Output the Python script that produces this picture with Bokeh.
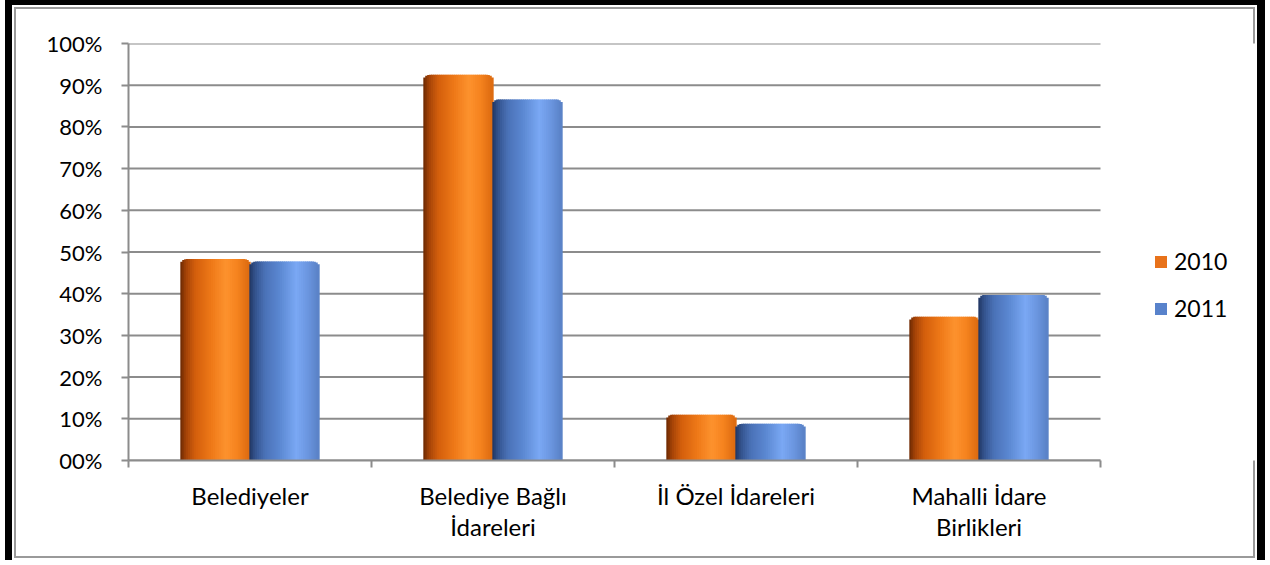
import math
from bokeh.plotting import figure
from bokeh.models import Range1d, FixedTicker, NumeralTickFormatter, Legend, LegendItem
from bokeh.embed import file_html
from bokeh.resources import INLINE

# ---- data ----
categories = ["Belediyeler", "Belediye Bağlı\nİdareleri", "İl Özel İdareleri", "Mahalli İdare\nBirlikleri"]
years = ["2010", "2011"]
values_2010 = [0.483, 0.925, 0.110, 0.345]
values_2011 = [0.477, 0.866, 0.088, 0.397]
y_ticks = [0.0, 0.1, 0.2, 0.3, 0.4, 0.5, 0.6, 0.7, 0.8, 0.9, 1.0]

FONT = "Lato"
GRID = "#8c8c8c"
BAR_W = 0.284

n_cat = len(categories)
centers = [i + 0.5 for i in range(n_cat)]

# layout (pixels)
BORDER_L, BORDER_R, BORDER_T, BORDER_B = 116, 5, 38, 105
CANVAS_W, CANVAS_H = 1260, 560
FRAME_W = CANVAS_W - BORDER_L - BORDER_R
FRAME_H = CANVAS_H - BORDER_T - BORDER_B
BAR_AREA_W = 972          # part of the frame holding the categories
x_end = n_cat * FRAME_W / BAR_AREA_W

p = figure(width=CANVAS_W, height=CANVAS_H, output_backend="svg", toolbar_location=None,
           x_range=Range1d(0, x_end), y_range=Range1d(0, 1),
           min_border_left=BORDER_L, min_border_right=BORDER_R,
           min_border_top=BORDER_T, min_border_bottom=BORDER_B)
p.styles = {"margin-left": "5px",
            "border-left": "7px solid black", "border-right": "8px solid black",
            "border-top": "5px solid black", "background-color": "white",
            "box-shadow": "inset 0 0 0 2px white, inset 0 0 0 4px #9a9a9a"}
p.border_fill_alpha = 0
p.background_fill_color = "white"
p.outline_line_color = None


def hex2rgb(h):
    h = h.lstrip("#")
    return tuple(int(h[i:i + 2], 16) for i in (0, 2, 4))


def interp(stops, f):
    for (f0, c0), (f1, c1) in zip(stops[:-1], stops[1:]):
        if f0 <= f <= f1:
            t = (f - f0) / (f1 - f0) if f1 > f0 else 0
            a, b = hex2rgb(c0), hex2rgb(c1)
            return "#%02x%02x%02x" % tuple(int(round(a[j] + (b[j] - a[j]) * t)) for j in range(3))
    return stops[-1][1]


orange_stops = [(0.0, "#6a2802"), (0.08, "#a44307"), (0.22, "#d45f0c"), (0.45, "#ee7918"),
                (0.66, "#fd922e"), (0.82, "#f6841f"), (1.0, "#dc6a10")]
blue_stops = [(0.0, "#213560"), (0.08, "#33528c"), (0.22, "#4a71b6"), (0.45, "#5c89d3"),
              (0.68, "#7aa8f4"), (0.84, "#6c97e1"), (1.0, "#5981c6")]

# gridlines limited to the category area
p.segment(x0=[0] * len(y_ticks), x1=[n_cat] * len(y_ticks), y0=y_ticks, y1=y_ticks,
          line_color=GRID, line_width=2)

series = [(values_2010, -BAR_W / 2, orange_stops, "#e8721a"),
          (values_2011, BAR_W / 2, blue_stops, "#5882cb")]

bar_px = BAR_W * BAR_AREA_W / n_cat
RADIUS = 6.0
legend_items = []
N = 36
for (vals, off, stops, base), yr in zip(series, years):
    xs = [c + off for c in centers]
    # base bar under the shading strips; also the legend swatch
    r = p.vbar(x=xs, top=[v - RADIUS / FRAME_H for v in vals], bottom=0, width=BAR_W * 0.98,
               fill_color=base, line_color=None)
    legend_items.append(LegendItem(label=yr, renderers=[r]))
    for k in range(N):
        f = (k + 0.5) / N
        d = min(f, 1 - f) * bar_px
        drop = 0.0
        if d < RADIUS:
            drop = RADIUS - math.sqrt(max(RADIUS ** 2 - (RADIUS - d) ** 2, 0))
        sx = [x - BAR_W / 2 + f * BAR_W for x in xs]
        tops = [v - drop / FRAME_H for v in vals]
        col = interp(stops, f)
        p.vbar(x=sx, top=tops, bottom=0, width=BAR_W / N * 1.7, fill_color=col, line_color=None)

# axes
p.xaxis.bounds = (0, n_cat)
p.xaxis.ticker = FixedTicker(ticks=centers, minor_ticks=list(range(n_cat + 1)))
p.xaxis.major_label_overrides = {c: lab for c, lab in zip(centers, categories)}
p.xaxis.major_tick_line_color = None
p.xaxis.minor_tick_line_color = GRID
p.xaxis.minor_tick_line_width = 2
p.xaxis.minor_tick_out = 7
p.xaxis.minor_tick_in = 0
p.xaxis.axis_line_color = GRID
p.xaxis.axis_line_width = 2
p.xaxis.major_label_text_font = FONT
p.xaxis.major_label_text_font_size = "24px"
p.xaxis.major_label_text_color = "black"
p.xaxis.major_label_standoff = 13
p.xaxis.major_label_text_line_height = 1.1

p.yaxis.ticker = FixedTicker(ticks=y_ticks)
p.yaxis.formatter = NumeralTickFormatter(format="00%")
p.yaxis.minor_tick_line_color = None
p.yaxis.major_tick_line_color = GRID
p.yaxis.major_tick_line_width = 2
p.yaxis.major_tick_out = 7
p.yaxis.major_tick_in = 0
p.yaxis.axis_line_color = GRID
p.yaxis.axis_line_width = 2
p.yaxis.major_label_text_font = FONT
p.yaxis.major_label_text_font_size = "22px"
p.yaxis.major_label_text_color = "black"
p.yaxis.major_label_standoff = 19

p.xgrid.grid_line_color = None
p.ygrid.grid_line_color = None

legend = Legend(items=legend_items, location=(1025, 138), orientation="vertical",
                label_text_font=FONT, label_text_font_size="23px", label_text_color="black",
                glyph_width=15, glyph_height=15, label_height=20, label_standoff=6,
                spacing=19, padding=0, margin=0, border_line_color=None,
                background_fill_alpha=0)
p.add_layout(legend, "center")

open("out.html", "w").write(file_html(p, INLINE))
